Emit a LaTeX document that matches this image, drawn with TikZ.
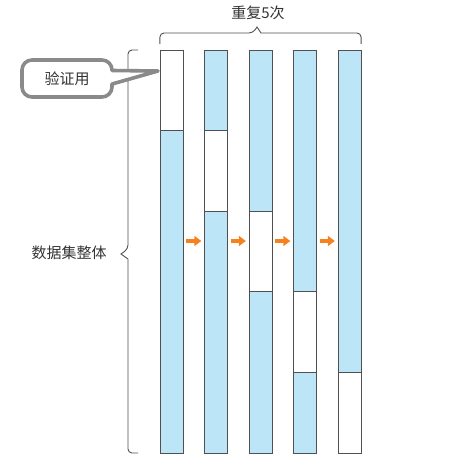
\documentclass[tikz,border=0pt]{standalone}
\usepackage{fontspec}
\setmainfont{Noto Sans CJK SC}
\usetikzlibrary{arrows.meta}
\definecolor{colblue}{HTML}{BDE5F8}
\definecolor{colline}{HTML}{505050}
\definecolor{arrorange}{HTML}{F5821F}
\definecolor{callgray}{HTML}{8A8A8A}
\definecolor{txtgray}{HTML}{333333}
\tikzset{
  segblue/.style={fill=colblue, draw=colline, line width=1pt},
  segwhite/.style={fill=white, draw=colline, line width=1pt},
  bracepath/.style={draw=colline, line width=0.9pt, rounded corners=4pt},
  stepar/.style={draw=arrorange, line width=3.2pt, -{Triangle[length=7pt,width=10pt]}},
  callout/.style={draw=callgray, fill=white, line width=3.6pt, line join=round},
  lbl/.style={font=\fontsize{15}{18}\selectfont, text=txtgray, inner sep=0pt}
}
\begin{document}
\begin{tikzpicture}[x=1pt,y=-1pt]
\useasboundingbox (0,0) rectangle (461,466);
% columns
\foreach \i/\xl in {0/160,1/204.5,2/249,3/293.5,4/338}{
  \pgfmathsetmacro{\xr}{\xl+23}
  \pgfmathsetmacro{\ya}{50+80.6*\i}
  \pgfmathsetmacro{\yb}{50+80.6*(\i+1)}
  \draw[segblue] (\xl,50) rectangle (\xr,453);
  \draw[segwhite] (\xl,\ya) rectangle (\xr,\yb);
}
% named columns (invisible anchors)
\foreach \n/\xl in {c1/160,c2/204.5,c3/249,c4/293.5,c5/338}{
  \node[inner sep=0pt, minimum width=23pt, minimum height=403pt] (\n) at (\xl+11.5,251.5) {};
}
% arrows between columns
\foreach \a/\b in {c1/c2,c2/c3,c3/c4,c4/c5}{
  \coordinate (s\a) at ([xshift=3pt]\a.east |- 0,241);
  \coordinate (e\a) at ([xshift=-3pt]\b.west |- 0,241);
  \draw[stepar] (s\a) -- (e\a);
}
% top brace
\draw[bracepath] (c1.north west |- 0,44) -- (160,33) -- (253,33) [sharp corners] -- (257,27) -- (261,33) [rounded corners=4pt] -- (361,33) -- (c5.north east |- 0,44);
\node[lbl] (rep) at (258,13) {重复5次};
% left brace
\draw[bracepath] (138,50) -- (128,50) -- (128,249) [sharp corners] -- (121,254) -- (128,259) [rounded corners=4pt] -- (128,453) -- (138,453);
\node[lbl] (all) at (69,253) {数据集整体};
% callout
\coordinate (tip) at (158,71);
\draw[callout] (32,60) -- (102,60) arc[start angle=-90,end angle=0,radius=10] -- (112,70.5) -- (tip) -- (112,84) -- (112,87) arc[start angle=0,end angle=90,radius=10] -- (32,97) arc[start angle=90,end angle=180,radius=10] -- (22,70) arc[start angle=180,end angle=270,radius=10] -- cycle;
\node[lbl] (val) at (67,79) {验证用};
\end{tikzpicture}
\end{document}
